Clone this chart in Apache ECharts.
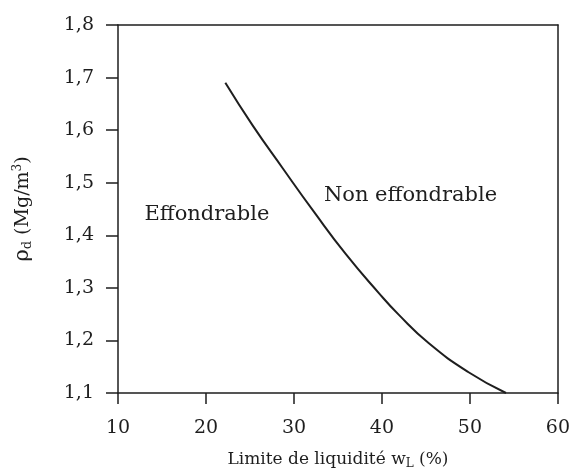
<!DOCTYPE html>
<html>
<head>
<meta charset="utf-8">
<script src="https://cdn.jsdelivr.net/npm/echarts@6/dist/echarts.min.js"></script>
<style>
  html, body { margin: 0; padding: 0; background: #fff; }
  #chart { width: 573px; height: 475px; }
</style>
</head>
<body>
<div id="chart"></div>
<script>
// Limit curve: dry density vs liquid limit separating collapsible / non-collapsible soils
const liquidLimit = [22.2, 25.3, 28.7, 32.3, 35.9, 39.6, 41.9, 45.3, 49.8, 54.1];
const dryDensity  = [1.69, 1.609, 1.528, 1.444, 1.364, 1.291, 1.249, 1.195, 1.140, 1.10];

const regionNames  = ['Effondrable', 'Non effondrable'];
const regionCoords = [[13.0, 1.44], [33.4, 1.476]];

const xTicks = [10, 20, 30, 40, 50, 60];
const yTicks = [1.1, 1.2, 1.3, 1.4, 1.5, 1.6, 1.7, 1.8];

const FONT = '"DejaVu Serif", "Liberation Serif", serif';
const INK = '#1e1e1e';

const chart = echarts.init(document.getElementById('chart'));

const fmtY = v => Number(v).toFixed(1).replace('.', ',');

chart.setOption({
  backgroundColor: '#ffffff',
  animation: false,
  grid: { left: 118, right: 13, top: 25, bottom: 79 },
  xAxis: [{
    type: 'value',
    min: xTicks[0], max: xTicks[xTicks.length - 1], interval: 10,
    position: 'bottom',
    name: 'Limite de liquidité w{sub|L} (%)',
    nameLocation: 'middle',
    nameGap: 57,
    nameTextStyle: {
      fontFamily: FONT, fontSize: 17, color: INK,
      rich: { sub: { fontFamily: FONT, fontSize: 12, color: INK, verticalAlign: 'bottom', padding: [8, 0, 0, 0] } }
    },
    axisLine: { show: true, lineStyle: { color: INK, width: 1.5 } },
    axisTick: { show: true, inside: false, length: 11, lineStyle: { color: INK, width: 1.5 } },
    axisLabel: { fontFamily: FONT, fontSize: 19, color: INK, margin: 26 },
    splitLine: { show: false }
  }, {
    type: 'value',
    min: xTicks[0], max: xTicks[xTicks.length - 1],
    position: 'top',
    axisLine: { show: true, onZero: false, lineStyle: { color: INK, width: 1.5 } },
    axisTick: { show: false },
    axisLabel: { show: false },
    splitLine: { show: false }
  }],
  yAxis: [{
    type: 'value',
    min: yTicks[0], max: yTicks[yTicks.length - 1], interval: 0.1,
    position: 'left',
    name: '{g|ρ}{sub|d} (Mg/m{sup|3})',
    nameLocation: 'middle',
    nameGap: 84,
    nameRotate: 90,
    nameTextStyle: {
      fontFamily: FONT, fontSize: 19, color: INK,
      rich: {
        g: { fontFamily: FONT, fontSize: 21, color: INK },
        sub: { fontFamily: FONT, fontSize: 13, color: INK, verticalAlign: 'bottom', padding: [9, 0, 0, 0] },
        sup: { fontFamily: FONT, fontSize: 12, color: INK, verticalAlign: 'top', padding: [0, 0, 9, 0] }
      }
    },
    axisLine: { show: true, onZero: false, lineStyle: { color: INK, width: 1.5 } },
    axisTick: { show: true, inside: false, length: 12, lineStyle: { color: INK, width: 1.5 } },
    axisLabel: { fontFamily: FONT, fontSize: 19, color: INK, margin: 24, formatter: fmtY },
    splitLine: { show: false }
  }, {
    type: 'value',
    min: yTicks[0], max: yTicks[yTicks.length - 1],
    position: 'right',
    axisLine: { show: true, onZero: false, lineStyle: { color: INK, width: 1.5 } },
    axisTick: { show: false },
    axisLabel: { show: false },
    splitLine: { show: false }
  }],
  series: [{
    type: 'line',
    xAxisIndex: 0,
    yAxisIndex: 0,
    data: liquidLimit.map((x, i) => [x, dryDensity[i]]),
    smooth: 0.5,
    showSymbol: false,
    symbol: 'none',
    lineStyle: { color: INK, width: 2 },
    markPoint: {
      symbol: 'circle',
      symbolSize: 0,
      silent: true,
      label: {
        show: true,
        position: 'right',
        distance: 0,
        fontFamily: FONT,
        fontSize: 21,
        color: INK,
        formatter: p => p.name
      },
      data: regionNames.map((n, i) => ({ name: n, coord: regionCoords[i] }))
    }
  }]
});
</script>
</body>
</html>
